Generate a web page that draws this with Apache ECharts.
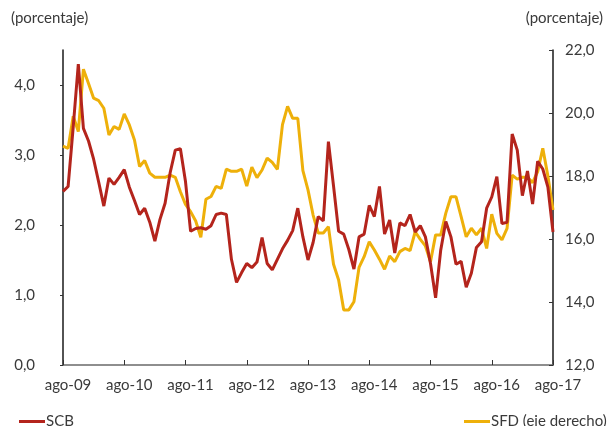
<!DOCTYPE html>
<html>
<head>
    <meta charset="utf-8">
    <title>SCB / SFD</title>
    <script src="https://cdn.jsdelivr.net/npm/echarts@6/dist/echarts.min.js"></script>
    <style>
        html, body, #main {
            width: 100%;
            height: 100%;
            margin: 0;
            background: #fff;
        }
    </style>
</head>
<body>
    <div id="main"></div>
    <script type="text/javascript">
        // meses ago-09 .. ago-17
        var mesesNombres = ['ene','feb','mar','abr','may','jun','jul','ago','sep','oct','nov','dic'];
        var meses = [];
        for (var k = 0; k < 97; k++) {
            var m = (7 + k) % 12;
            var y = 9 + Math.floor((7 + k) / 12);
            meses.push(mesesNombres[m] + '-' + (y < 10 ? '0' + y : y));
        }

        // SCB (eje izquierdo, %)
        var scb = [
            2.48, 2.55, 3.40, 4.30, 3.38, 3.20, 2.94, 2.61, 2.27, 2.67, 2.58, 2.68,
            2.79, 2.54, 2.35, 2.15, 2.24, 2.04, 1.77, 2.08, 2.31, 2.75, 3.07, 3.09,
            2.62, 1.91, 1.95, 1.96, 1.94, 1.99, 2.15, 2.17, 2.15, 1.51, 1.18, 1.32,
            1.45, 1.39, 1.47, 1.82, 1.45, 1.36, 1.51, 1.66, 1.78, 1.92, 2.24, 1.83,
            1.50, 1.75, 2.12, 2.06, 3.19, 2.56, 1.91, 1.87, 1.65, 1.37, 1.83, 1.87,
            2.28, 2.12, 2.55, 1.87, 2.07, 1.60, 2.03, 1.99, 2.15, 1.90, 1.99, 1.83,
            1.45, 0.96, 1.64, 2.05, 1.83, 1.44, 1.48, 1.11, 1.31, 1.68, 1.76, 2.24,
            2.40, 2.69, 2.02, 2.04, 3.30, 3.07, 2.42, 2.77, 2.30, 2.91, 2.80, 2.54,
            1.90
        ];

        // SFD (eje derecho, %)
        var sfd = [
            18.95, 18.88, 19.90, 19.41, 21.39, 20.94, 20.47, 20.39, 20.15, 19.30, 19.57, 19.48,
            19.97, 19.62, 19.14, 18.30, 18.49, 18.09, 17.96, 17.96, 17.96, 18.03, 17.96, 17.50,
            17.10, 16.87, 16.57, 16.05, 17.26, 17.35, 17.67, 17.61, 18.22, 18.15, 18.15, 18.22,
            17.68, 18.28, 17.95, 18.19, 18.57, 18.43, 18.21, 19.63, 20.21, 19.83, 19.83, 18.17,
            17.56, 16.76, 16.19, 16.19, 16.39, 15.20, 14.70, 13.75, 13.75, 14.01, 15.10, 15.44,
            15.91, 15.65, 15.36, 15.04, 15.46, 15.28, 15.60, 15.70, 15.63, 16.23, 15.99, 15.78,
            15.28, 16.13, 16.13, 16.82, 17.34, 17.34, 16.71, 16.07, 16.34, 16.13, 16.34, 15.70,
            16.79, 16.18, 15.97, 16.34, 18.03, 17.90, 17.96, 17.96, 17.79, 18.14, 18.88, 18.00,
            16.92
        ];

        var ticksIzq = [0, 1, 2, 3, 4];

        var fuente = 'Lato';
        var gris = '#3a3a3a';
        function coma(v) { return v.toFixed(1).replace('.', ','); }

        var myChart = echarts.init(document.getElementById('main'));
        var option = {
            animation: false,
            textStyle: { fontFamily: fuente },
            title: [
                { text: '(porcentaje)', left: 6, top: 6,
                  textStyle: { fontSize: 15, fontWeight: 'normal', color: gris, fontFamily: fuente } },
                { text: '(porcentaje)', right: 0, top: 6,
                  textStyle: { fontSize: 15, fontWeight: 'normal', color: gris, fontFamily: fuente } }
            ],
            legend: [
                { data: ['SCB'], left: 14, top: 409, icon: 'rect', itemWidth: 26, itemHeight: 3,
                  textStyle: { fontSize: 15, color: gris, padding: [0, 0, 0, -4] } },
                { data: ['SFD (eje derecho)'], left: 459, top: 409, icon: 'rect', itemWidth: 26, itemHeight: 3,
                  textStyle: { fontSize: 15, color: gris, padding: [0, 0, 0, -4] } }
            ],
            grid: { left: 63, right: 55, top: 50, bottom: 61, containLabel: false },
            xAxis: {
                type: 'category',
                data: meses,
                boundaryGap: false,
                axisLine: { lineStyle: { color: '#6a6a6a', width: 1.5 } },
                axisTick: { interval: 11, inside: true, length: 5, lineStyle: { color: '#333' } },
                axisLabel: {
                    interval: 11, margin: 13, fontSize: 15, color: gris,
                    padding: [0, 0, 0, 10],
                    formatter: function (v) { return v; }
                },
                splitLine: { show: false }
            },
            yAxis: [
                {
                    type: 'value', min: 0, max: 4.5, position: 'left',
                    axisLine: { show: true, lineStyle: { color: '#1a1a1a', width: 1.5 } },
                    axisTick: { show: true, length: 3, customValues: ticksIzq, lineStyle: { color: '#333' } },
                    axisLabel: { customValues: ticksIzq, margin: 28, fontSize: 15, color: gris,
                                 formatter: function (v) { return coma(v); } },
                    splitLine: { show: false }
                },
                {
                    type: 'value', min: 12, max: 22, interval: 2, position: 'right',
                    axisLine: { show: true, lineStyle: { color: '#1a1a1a', width: 1.5 } },
                    axisTick: { show: true, inside: true, length: 4, lineStyle: { color: '#333' } },
                    axisLabel: { margin: 12, fontSize: 15, color: gris,
                                 formatter: function (v) { return coma(v); } },
                    splitLine: { show: false }
                }
            ],
            series: [
                {
                    name: 'SCB', type: 'line', yAxisIndex: 0, data: scb,
                    symbol: 'none', color: '#B4241C',
                    lineStyle: { width: 3, color: '#B4241C' }, z: 3
                },
                {
                    name: 'SFD (eje derecho)', type: 'line', yAxisIndex: 1, data: sfd,
                    symbol: 'none', color: '#EEB00A',
                    lineStyle: { width: 3, color: '#EEB00A' }, z: 2
                }
            ]
        };
        myChart.setOption(option);
        window.onresize = myChart.resize;
    </script>
</body>
</html>
